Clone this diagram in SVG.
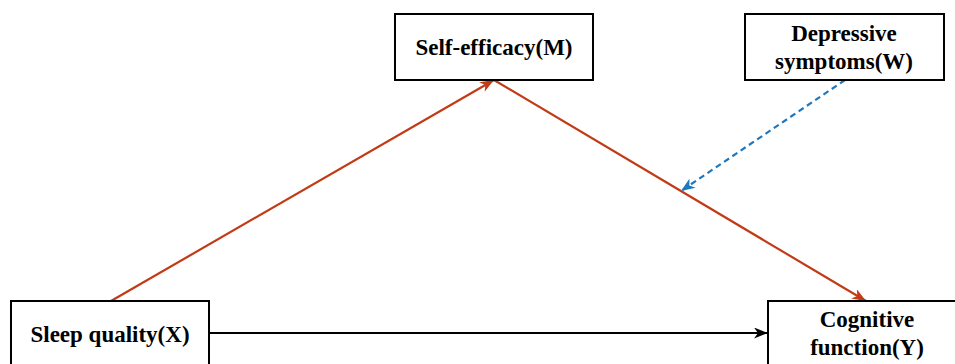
<svg xmlns="http://www.w3.org/2000/svg" width="955" height="364" viewBox="0 0 955 364">
<style>
.box{fill:#fff;stroke:#000;stroke-width:2}
.t{font-family:"Liberation Serif","Times New Roman",serif;font-weight:bold;font-size:23px;text-anchor:middle;fill:#000}
.red{stroke:#C23B17;stroke-width:2.2;fill:none}
.blk{stroke:#000;stroke-width:2.2;fill:none}
.blu{stroke:#1F78BE;stroke-width:2.2;fill:none;stroke-dasharray:6,4}
</style>
<defs>
<marker id="aR" viewBox="0 0 14 11" refX="14" refY="5.5" markerWidth="14" markerHeight="11" markerUnits="userSpaceOnUse" orient="auto"><path d="M0,0 L14,5.5 L0,11 L4,5.5 Z" fill="#C23B17"/></marker>
<marker id="aK" viewBox="0 0 14 11" refX="14" refY="5.5" markerWidth="14" markerHeight="11" markerUnits="userSpaceOnUse" orient="auto"><path d="M0,0 L14,5.5 L0,11 L4,5.5 Z" fill="#000"/></marker>
<marker id="aB" viewBox="0 0 14 11" refX="14" refY="5.5" markerWidth="14" markerHeight="11" markerUnits="userSpaceOnUse" orient="auto"><path d="M0,0 L14,5.5 L0,11 L4,5.5 Z" fill="#1F78BE"/></marker>
</defs>
<g id="connectors">
<line class="red" x1="111" y1="301" x2="494" y2="80" marker-end="url(#aR)"/>
<line class="red" x1="494" y1="80" x2="866" y2="301" marker-end="url(#aR)"/>
<line class="blk" x1="209" y1="333" x2="768" y2="333" marker-end="url(#aK)"/>
<line class="blu" x1="845" y1="80" x2="681" y2="191" marker-end="url(#aB)"/>
</g>
<g id="M"><rect class="box" x="395" y="14" width="198" height="66"/><text class="t" x="494" y="55">Self-efficacy(M)</text></g>
<g id="W"><rect class="box" x="745" y="14" width="199" height="66"/><text class="t" x="844" y="41">Depressive</text><text class="t" x="844" y="69">symptoms(W)</text></g>
<g id="X"><rect class="box" x="11" y="301" width="198" height="70"/><text class="t" x="110" y="342">Sleep quality(X)</text></g>
<g id="Y"><rect class="box" x="768" y="301" width="198" height="70"/><text class="t" x="867" y="327">Cognitive</text><text class="t" x="867" y="355">function(Y)</text></g>
</svg>
